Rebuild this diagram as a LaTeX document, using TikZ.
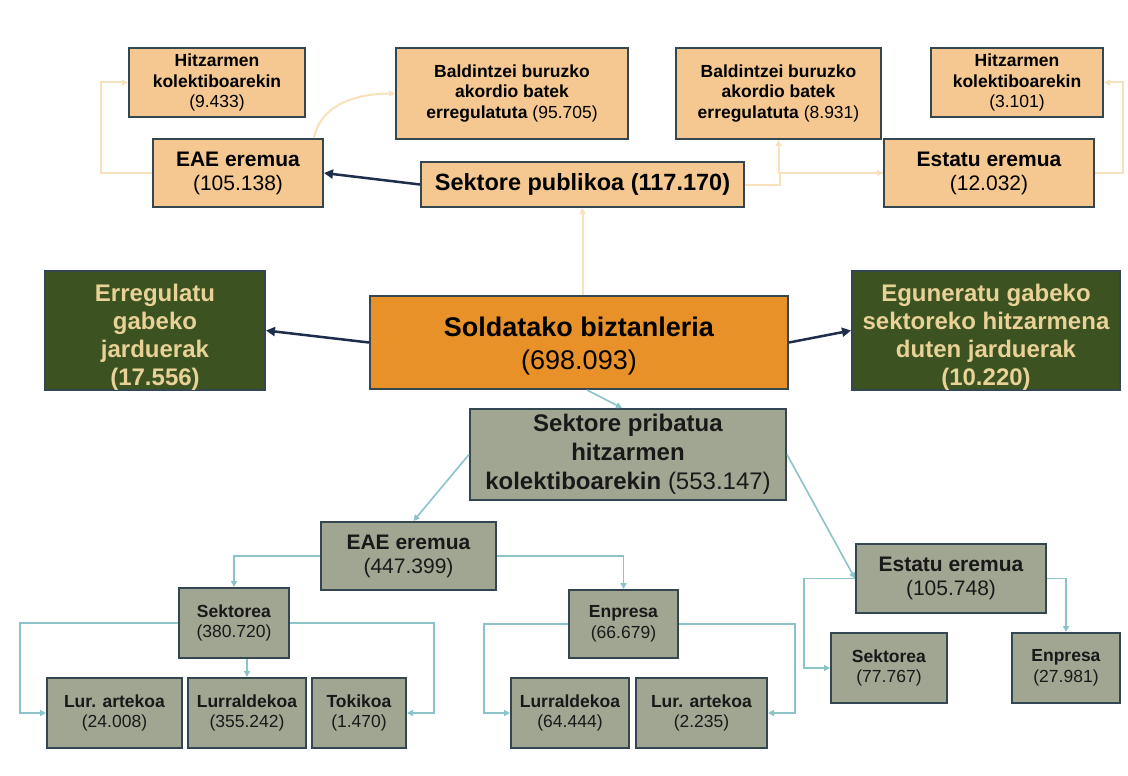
\documentclass[tikz,border=0pt]{standalone}
\usepackage{fontspec}
\setmainfont{Liberation Sans}
\usetikzlibrary{arrows.meta}
\definecolor{boxtan}{RGB}{245,200,145}
\definecolor{boxgrey}{RGB}{160,166,146}
\definecolor{boxgreen}{RGB}{60,82,33}
\definecolor{greentext}{RGB}{232,210,152}
\definecolor{boxorange}{RGB}{232,145,40}
\definecolor{boxline}{RGB}{52,70,80}
\definecolor{navyline}{RGB}{30,45,75}
\definecolor{tealline}{RGB}{140,195,200}
\definecolor{faintline}{RGB}{248,226,188}
\newcommand{\boxat}[7]{\node[#1, minimum width={(#5-#3)*1pt}, minimum height={(#6-#4)*1pt}] (#2) at ({(#3+#5)/2},{(#4+#6)/2}) {#7};}
\tikzset{
  box/.style={draw=boxline, line width=2pt, inner sep=0pt, align=center},
  tanbox/.style={box, fill=boxtan, text=black},
  greybox/.style={box, fill=boxgrey, text=black!90},
  greenbox/.style={box, fill=boxgreen, text=greentext, font=\fontsize{24}{28}\selectfont\bfseries},
  orangebox/.style={box, fill=boxorange, text=black},
  fsmall/.style={font=\fontsize{17.5}{20.5}\selectfont},
  fmid/.style={font=\fontsize{21}{24}\selectfont},
  fbig/.style={font=\fontsize{24}{29}\selectfont},
  navyarrow/.style={draw=navyline, line width=2.5pt, -{Triangle[length=9pt,width=9pt]}},
  tealarrow/.style={draw=tealline, line width=1.6pt, -{Triangle[length=6pt,width=6pt]}},
  faintarrow/.style={draw=faintline, line width=2pt, -{Triangle[length=6pt,width=6pt]}},
}
\begin{document}
\begin{tikzpicture}[x=1pt,y=-1pt]
\useasboundingbox[fill=white] (0,0) rectangle (1128,776);
% top (public sector)
\boxat{tanbox,fsmall}{H1}{129}{48}{305}{117}{\textbf{Hitzarmen}\\\textbf{kolektiboarekin}\\(9.433)}
\boxat{tanbox,fsmall}{B1}{396}{48}{628}{139}{\textbf{Baldintzei buruzko}\\\textbf{akordio batek}\\\textbf{erregulatuta} (95.705)}
\boxat{tanbox,fsmall}{B2}{676}{48}{881}{139}{\textbf{Baldintzei buruzko}\\\textbf{akordio batek}\\\textbf{erregulatuta} (8.931)}
\boxat{tanbox,fsmall}{H2}{931}{48}{1103}{117}{\textbf{Hitzarmen}\\\textbf{kolektiboarekin}\\(3.101)}
\boxat{tanbox,fmid}{EAE1}{153}{139}{323}{207}{\textbf{EAE eremua}\\(105.138)}
\boxat{tanbox,font=\fontsize{23.5}{28}\selectfont}{SP}{421}{162}{744}{207}{\textbf{Sektore publikoa (117.170)}}
\boxat{tanbox,fmid}{EST1}{884}{139}{1094}{207}{\textbf{Estatu eremua}\\(12.032)}
% middle
\boxat{greenbox}{ER}{45}{273}{265}{388}{\rule{0pt}{30pt}Erregulatu\\gabeko\\jarduerak\\(17.556)}
\boxat{orangebox,font=\fontsize{27}{33}\selectfont}{SB}{370}{296}{788}{389}{\rule{0pt}{26pt}\textbf{Soldatako biztanleria}\\(698.093)}
\boxat{greenbox}{EG}{852}{273}{1120}{388}{\rule{0pt}{30pt}Eguneratu gabeko\\sektoreko hitzarmena\\duten jarduerak\\(10.220)}
% bottom (private sector)
\boxat{greybox,fbig}{SPR}{470}{409}{786}{500}{\textbf{Sektore pribatua}\\\textbf{hitzarmen}\\\textbf{kolektiboarekin} (553.147)}
\boxat{greybox,fmid}{EAE2}{321}{522}{496}{590}{\textbf{EAE eremua}\\(447.399)}
\boxat{greybox,fmid}{EST2}{856}{544}{1046}{613}{\textbf{Estatu eremua}\\(105.748)}
\boxat{greybox,fsmall}{S1}{179}{588}{289}{658}{\textbf{Sektorea}\\(380.720)}
\boxat{greybox,fsmall}{E1}{569}{590}{678}{658}{\textbf{Enpresa}\\(66.679)}
\boxat{greybox,fsmall}{L1}{47}{678}{182}{748}{\textbf{Lur. artekoa}\\(24.008)}
\boxat{greybox,fsmall}{L2}{188}{678}{306}{748}{\textbf{Lurraldekoa}\\(355.242)}
\boxat{greybox,fsmall}{L3}{312}{678}{406}{748}{\textbf{Tokikoa}\\(1.470)}
\boxat{greybox,fsmall}{L4}{511}{678}{629}{748}{\textbf{Lurraldekoa}\\(64.444)}
\boxat{greybox,fsmall}{L5}{636}{678}{767}{748}{\textbf{Lur. artekoa}\\(2.235)}
\boxat{greybox,fsmall}{S2}{831}{633}{947}{703}{\textbf{Sektorea}\\(77.767)}
\boxat{greybox,fsmall}{E2}{1012}{633}{1120}{703}{\textbf{Enpresa}\\(27.981)}
% navy arrows
\draw[navyarrow] (SP.west) -- (EAE1.east);
\draw[navyarrow] (SB.west) -- (ER.east);
\draw[navyarrow] (SB.east) -- (EG.west);
% faint orange connectors
\draw[faintarrow] (SB.north -| SP.south) -- (SP.south);
\draw[faintarrow] (EAE1.west) -- ++(-51,0) |- (H1.west);
\draw[faintarrow] ([xshift=-10pt]EAE1.north east) .. controls +(8,-40) and +(-25,0) .. (B1.west);
\draw[faintarrow] (SP.east) -- ++(35,0) |- (EST1.west);
\draw[faintarrow] (EST1.west) -| (B2.south);
\draw[faintarrow] (EST1.east) -- ++(28,0) |- (H2.east);
% teal connectors
\draw[tealarrow] ([xshift=8pt]SB.south) -- ([xshift=-6pt]SPR.north);
\draw[tealarrow] (SPR.west) -- ([xshift=5pt]EAE2.north);
\draw[tealarrow] (SPR.east) -- (EST2.west);
\draw[tealarrow] (EAE2.west) -| (S1.north);
\draw[tealarrow] (EAE2.east) -| (E1.north);
\draw[tealarrow] (S1.west) -- ++(-158,0) |- (L1.west);
\draw[tealarrow] (S1.south -| L2.north) -- (L2.north);
\draw[tealarrow] (S1.east) -- ++(144,0) |- (L3.east);
\draw[tealarrow] (E1.west) -- ++(-84,0) |- (L4.west);
\draw[tealarrow] (E1.east) -- ++(116,0) |- (L5.east);
\draw[tealarrow] (EST2.west) -- ++(-51,0) |- (S2.west);
\draw[tealarrow] (EST2.east) -| (E2.north);
\end{tikzpicture}
\end{document}
